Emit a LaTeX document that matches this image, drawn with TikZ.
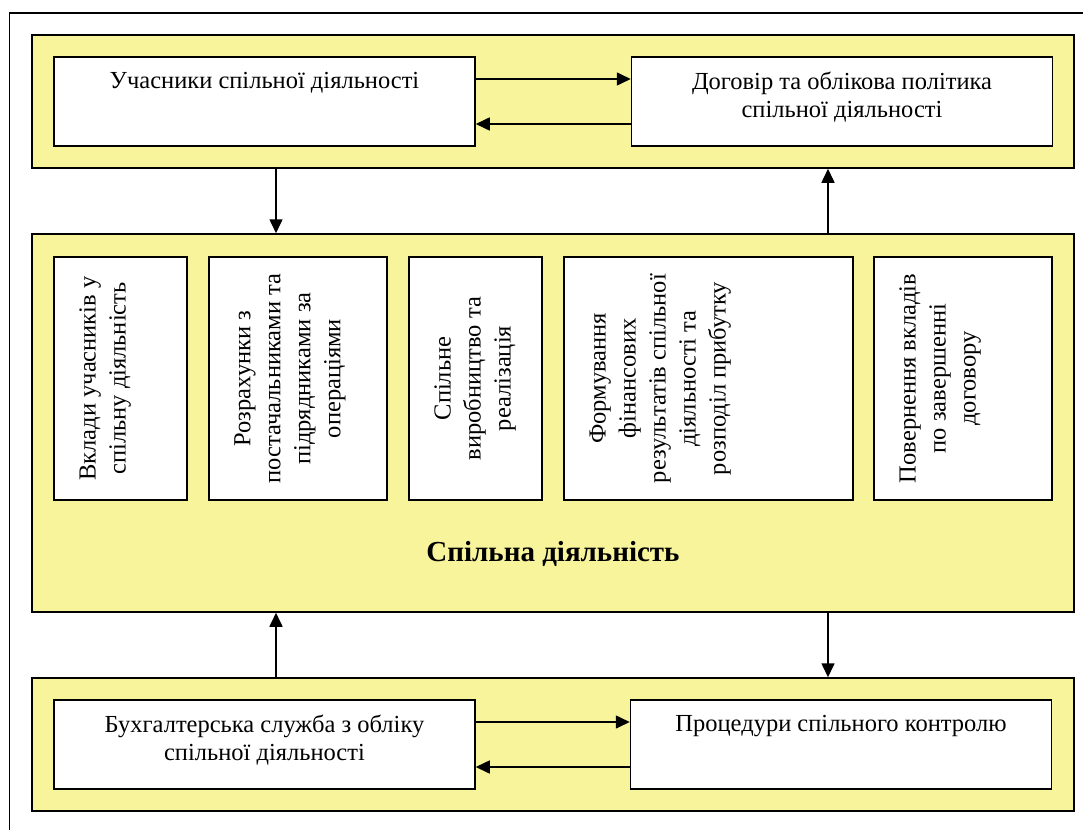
\documentclass[tikz,border=0pt]{standalone}
\usepackage{fontspec}
\setmainfont{Liberation Serif}
\usetikzlibrary{arrows.meta, positioning}
\definecolor{bandyellow}{RGB}{248,244,156}

\begin{document}
\begin{tikzpicture}[x=1pt,y=-1pt,
  band/.style={rectangle,draw,line width=1.5pt,fill=bandyellow,inner sep=0pt,minimum width=1042pt},
  cell/.style={rectangle,draw,line width=1.5pt,fill=white,inner sep=0pt,minimum width=421pt,minimum height=89pt},
  vcell/.style={rectangle,draw,line width=1.5pt,fill=white,inner sep=0pt,minimum height=243pt},
  txt/.style={anchor=north,inner sep=0pt,align=center,font=\fontsize{24.5}{28}\selectfont},
  vtxt/.style={txt,rotate=90,font=\fontsize{24.5}{30}\selectfont},
  arr/.style={-{Triangle[length=14pt,width=13pt]},line width=1.6pt}
]
  \useasboundingbox (0,0) rectangle (1083,829);
  \clip (0,0) rectangle (1083,829);
  % outer frame runs off the page on the right and bottom
  \draw[line width=1.2pt] (9.5,13) rectangle (1100,850);

  % bands
  \node[band,minimum height=133pt](topband) at (553,101.5) {};
  \node[band,minimum height=378pt](joint)   at (553,423)   {};
  \node[band,minimum height=133pt](botband) at (553,744.5) {};

  % top band
  \node[cell](part)     at (264.5,101.5) {};
  \node[cell](contract) at (842,101.5)   {};
  \node[txt](partt)     at ([yshift=-16pt]part.north)     {Учасники спільної діяльності};
  \node[txt](contractt) at ([yshift=-16pt]contract.north) {Договір та облікова політика\\спільної діяльності};
  \draw[arr]([yshift=22.5pt]part.east)--([yshift=22.5pt]contract.west);
  \draw[arr]([yshift=-22.5pt]contract.west)--([yshift=-22.5pt]part.east);

  % joint activity
  \node[vcell,minimum width=133pt](contrib) at (120.5,378.5) {};
  \node[vcell,minimum width=178pt](settle)  at (298,378.5)   {};
  \node[vcell,minimum width=133pt](prod)    at (475.5,378.5) {};
  \node[vcell,minimum width=289pt](result)  at (708.5,378.5) {};
  \node[vcell,minimum width=178pt](refund)  at (963,378.5)   {};
  \node[vtxt](contribt) at ([xshift=26pt]contrib.west) {Вклади учасників у\\спільну діяльність};
  \node[vtxt](settlet)  at ([xshift=26pt]settle.west)  {Розрахунки з\\постачальниками та\\підрядниками за\\операціями};
  \node[vtxt](prodt)    at ([xshift=26pt]prod.west)    {Спільне\\виробництво та\\реалізація};
  \node[vtxt](resultt)  at ([xshift=26pt]result.west)  {Формування\\фінансових\\результатів спільної\\діяльності та\\розподіл прибутку};
  \node[vtxt](refundt)  at ([xshift=26pt]refund.west)  {Повернення вкладів\\по завершенні\\договору};
  \node[anchor=base,inner sep=0pt,font=\fontsize{29}{32}\selectfont\bfseries](jointt) at (553,561) {Спільна діяльність};

  % bottom band
  \node[cell](acct)    at (264.5,744.5) {};
  \node[cell](control) at (841,744.5)   {};
  \node[txt](acctt)    at ([yshift=-16pt]acct.north)    {Бухгалтерська служба з обліку\\спільної діяльності};
  \node[txt](controlt) at ([yshift=-16pt]control.north) {Процедури спільного контролю};
  \draw[arr]([yshift=22.5pt]acct.east)--([yshift=22.5pt]control.west);
  \draw[arr]([yshift=-22.5pt]control.west)--([yshift=-22.5pt]acct.east);

  % links between bands
  \draw[arr]([xshift=-277pt]topband.south)--([xshift=-277pt]joint.north);
  \draw[arr]([xshift=275pt]joint.north)--([xshift=275pt]topband.south);
  \draw[arr]([xshift=-277pt]botband.north)--([xshift=-277pt]joint.south);
  \draw[arr]([xshift=275pt]joint.south)--([xshift=275pt]botband.north);
\end{tikzpicture}
\end{document}
